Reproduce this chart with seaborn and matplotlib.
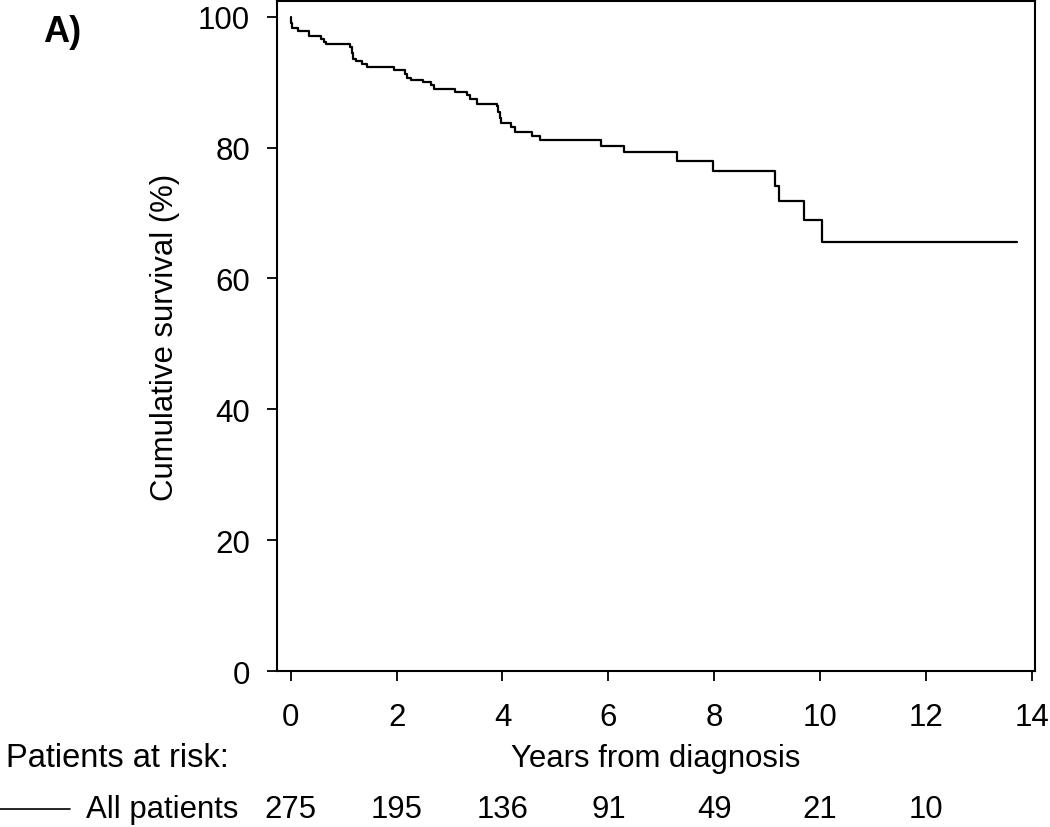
import matplotlib
matplotlib.use("Agg")
import matplotlib.pyplot as plt
import matplotlib.transforms as mtransforms
from matplotlib.lines import Line2D
import seaborn as sns
import pandas as pd

# ---- data ----
years = [0, 0.01, 0.03, 0.14, 0.35, 0.58, 0.62, 0.66, 1.12, 1.16, 1.18, 1.23, 1.34,
         1.44, 1.95, 2.16, 2.20, 2.28, 2.50, 2.65, 2.70, 3.10, 3.32, 3.38, 3.52,
         3.89, 3.92, 3.95, 3.98, 4.17, 4.23, 4.55, 4.70, 5.86, 6.29, 7.29, 7.97,
         9.15, 9.22, 9.70, 10.04, 13.72]
survival = [100, 99.0, 98.2, 97.8, 97.0, 96.6, 96.2, 95.8, 95.4, 94.5, 93.5, 93.2, 92.8,
            92.3, 91.9, 91.3, 90.7, 90.4, 90.0, 89.6, 89.0, 88.5, 88.0, 87.4, 86.7,
            86.3, 85.4, 84.5, 83.7, 83.1, 82.4, 81.8, 81.1, 80.2, 79.3, 77.9, 76.4,
            74.1, 71.8, 68.9, 65.5, 65.5]
risk_years = [0, 2, 4, 6, 8, 10, 12]
at_risk = [275, 195, 136, 91, 49, 21, 10]
x_ticks = [0, 2, 4, 6, 8, 10, 12, 14]
y_ticks = [0, 20, 40, 60, 80, 100]

sns.set_theme(style="white")
plt.rcParams['font.family'] = ['Liberation Sans', 'DejaVu Sans']
plt.rcParams['text.color'] = 'black'
plt.rcParams['axes.labelcolor'] = 'black'

fig = plt.figure(figsize=(10.5, 8.28), dpi=100)
ax = fig.add_axes([277/1050, 1 - 672/828, (1035-277)/1050, (672-2)/828])

df = pd.DataFrame({"Years": years, "Survival": survival})
sns.lineplot(data=df, x="Years", y="Survival", drawstyle="steps-post",
             estimator=None, color="black", linewidth=1.6, ax=ax)

ax.set_xlim(-0.26, 14.06)
ax.set_ylim(0, 102.4)
ax.set_xticks(x_ticks)
ax.set_yticks(y_ticks)
ax.tick_params(axis="both", which="major", direction="out", length=7.5, width=1.3,
               color="black", labelsize=22.5, labelcolor="black", left=True, bottom=True)
ax.tick_params(axis="x", pad=15)
ax.tick_params(axis="y", pad=12)
for s in ax.spines.values():
    s.set_visible(True)
    s.set_color("black")
    s.set_linewidth(1.5)

ax.set_xlabel("Years from diagnosis", fontsize=22.4, color="black")
ax.xaxis.set_label_coords(0.5, (672 - 759) / 670)
ax.xaxis.label.set_verticalalignment("center")
ax.set_ylabel("Cumulative survival (%)", fontsize=22.4, color="black")
ax.yaxis.set_label_coords((165 - 277) / 758, 0.5)
ax.yaxis.label.set_verticalalignment("center")

# panel label
fig.text(43/1050, 1 - 33/828, "A)", fontsize=26, fontweight="bold", va="center",
         ha="left", color="black")

# patients at risk table
fig.text(6/1050, 1 - 759/828, "Patients at risk:", fontsize=23.5, va="center",
         ha="left", color="black")
fig.text(238/1050, 1 - 810/828, "All patients", fontsize=22.4, va="center",
         ha="right", color="black")
fig.add_artist(Line2D([0, 70/1050], [1 - 810/828, 1 - 810/828], color="black",
                      linewidth=1.2, transform=fig.transFigure))
trans = mtransforms.blended_transform_factory(ax.transData, fig.transFigure)
for yr, n in zip(risk_years, at_risk):
    ax.text(yr, 1 - 810/828, str(n), transform=trans, fontsize=22.4, color="black",
            ha="center", va="center", clip_on=False)

fig.savefig("out.png", dpi=100, facecolor="white")
